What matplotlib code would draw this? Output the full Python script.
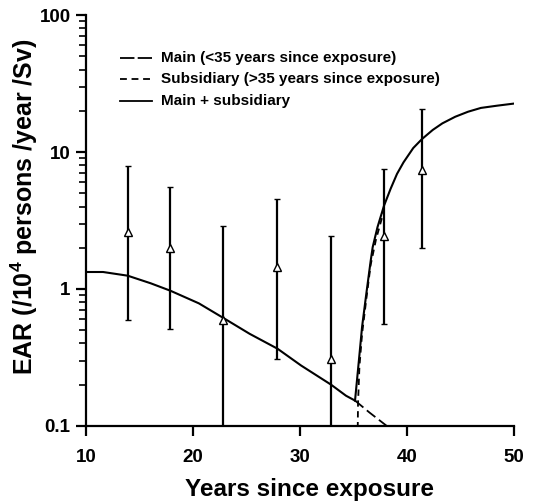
import numpy as np
import matplotlib
matplotlib.use("Agg")
import matplotlib.pyplot as plt
from matplotlib.ticker import FixedLocator, FixedFormatter, NullFormatter, LogLocator

plt.rcParams['font.family'] = ['Liberation Sans', 'DejaVu Sans']
plt.rcParams['mathtext.fontset'] = 'custom'
plt.rcParams['mathtext.bf'] = 'Liberation Sans:bold'
plt.rcParams['mathtext.rm'] = 'Liberation Sans:bold'
plt.rcParams['mathtext.default'] = 'bf'

# observed points (years since exposure, EAR, lower and upper limits)
obs_years = [13.9, 17.85, 22.85, 27.85, 32.9, 37.85, 41.4]
obs_ear = [2.6, 2.0, 0.59, 1.45, 0.31, 2.45, 7.4]
obs_low = [0.59, 0.51, 0.05, 0.31, 0.05, 0.555, 2.0]
obs_high = [7.9, 5.55, 2.9, 4.55, 2.42, 7.5, 20.6]

# main model, solid part (< 35 years)
main_years = [10.0, 11.6, 13.9, 16.05, 17.9, 20.55, 22.9, 25.3, 27.9, 30.1, 32.9, 34.3, 35.14]
main_ear = [1.33, 1.33, 1.25, 1.10, 0.97, 0.785, 0.61, 0.47, 0.366, 0.276, 0.20, 0.166, 0.153]

# main model, dashed extension
main_ext_years = [35.14, 36.5, 38.1]
main_ext_ear = [0.153, 0.125, 0.1]

# subsidiary model (> 35 years)
sub_years = [35.38, 35.42, 35.55, 35.8, 36.2, 36.6, 37.1, 37.85]
sub_ear = [0.08, 0.146, 0.27, 0.47, 0.85, 1.5, 2.3, 3.75]

# main + subsidiary, rising part
tot_years = [35.14, 35.5, 35.8, 36.2, 36.6, 36.79, 37.24, 37.85, 38.46, 39.06, 39.67,
             40.58, 41.4, 42.4, 43.3, 44.5, 45.7, 46.9, 48.4, 50.0]
tot_ear = [0.153, 0.30, 0.53, 0.93, 1.6, 2.02, 2.83, 4.06, 5.38, 6.92, 8.41,
           10.7, 12.45, 14.5, 16.2, 18.1, 19.7, 21.0, 21.8, 22.6]

fig = plt.figure(figsize=(5.44, 5.04), dpi=100)
ax = fig.add_axes([0.158, 0.155, 0.787, 0.815])

ax.plot(main_ext_years, main_ext_ear, color='black', lw=1.3, dashes=(6, 2.5))
ax.plot(sub_years, sub_ear, color='black', lw=1.3, dashes=(3.5, 2.5))
ax.plot(main_years, main_ear, color='black', lw=1.5, solid_joinstyle='round')
ax.plot(tot_years, tot_ear, color='black', lw=1.5, solid_joinstyle='round')

yerr = [np.array(obs_ear) - np.array(obs_low), np.array(obs_high) - np.array(obs_ear)]
ax.errorbar(obs_years, obs_ear, yerr=yerr, fmt='^', mfc='white', mec='black',
            ms=6, mew=1.0, ecolor='black', elinewidth=1.6, capsize=2, capthick=1.6,
            zorder=3)

# legend drawn by hand in axes coordinates
leg_labels = ['Main (<35 years since exposure)',
              'Subsidiary (>35 years since exposure)',
              'Main + subsidiary']
leg_dashes = [(8, 1.8), (3.8, 2.6), None]
for i, (lab, d) in enumerate(zip(leg_labels, leg_dashes)):
    yy = 0.896 - i * 0.052
    line, = ax.plot([0.08, 0.155], [yy, yy], transform=ax.transAxes, color='black', lw=1.3)
    if d is not None:
        line.set_dashes(d)
    ax.text(0.176, yy, lab, transform=ax.transAxes, fontsize=11, fontweight='bold',
            va='center', ha='left')

ax.set_yscale('log')
ax.set_xlim(10, 50)
ax.set_ylim(0.1, 100)
ax.set_xticks([10, 20, 30, 40, 50])
ax.yaxis.set_major_locator(FixedLocator([0.1, 1, 10, 100]))
ax.yaxis.set_major_formatter(FixedFormatter(['0.1', '1', '10', '100']))
ax.yaxis.set_minor_locator(LogLocator(base=10, subs=np.arange(2, 10)))
ax.yaxis.set_minor_formatter(NullFormatter())

for s in ['top', 'right']:
    ax.spines[s].set_visible(False)
for s in ['left', 'bottom']:
    ax.spines[s].set_linewidth(1.6)

ax.tick_params(axis='both', which='major', direction='out', length=7, width=1.6,
               labelsize=13.5, pad=4)
ax.tick_params(axis='x', which='major', pad=10)
ax.tick_params(axis='y', which='minor', direction='out', length=5, width=1.2)
for lbl in ax.get_xticklabels() + ax.get_yticklabels():
    lbl.set_fontweight('bold')

ax.set_xlabel('Years since exposure', fontsize=17.5, fontweight='bold')
ax.xaxis.set_label_coords(0.522, -0.127)
ax.set_ylabel(r'EAR (/10$^{4}$ persons /year /Sv)', fontsize=18, fontweight='bold')
ax.yaxis.set_label_coords(-0.107, 0.533)

fig.savefig('out.png', dpi=100)
